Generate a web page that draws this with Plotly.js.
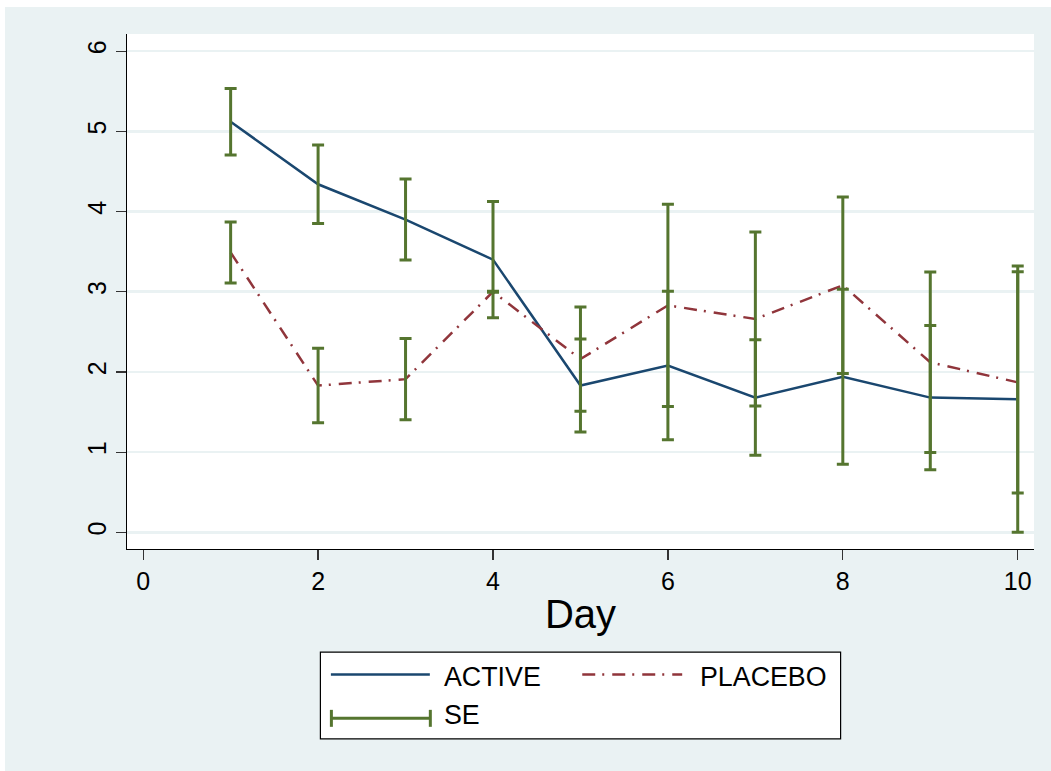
<!DOCTYPE html>
<html>
<head>
<meta charset="utf-8">
<script src="https://cdn.plot.ly/plotly-3.0.1.min.js"></script>
<style>
  html, body { margin: 0; padding: 0; background: #ffffff; }
  #chart { position: absolute; left: 5px; top: 7px; width: 1046px; height: 764px; }
</style>
</head>
<body>
<div id="chart"></div>
<script>
// ---- data ----
const days = [1, 2, 3, 4, 5, 6, 7, 8, 9, 10];
const activeMean = [5.12, 4.34, 3.90, 3.40, 1.83, 2.08, 1.68, 1.94, 1.68, 1.66];
const activeSE = [0.415, 0.49, 0.505, 0.725, 0.58, 0.925, 0.72, 1.09, 0.90, 1.66];
const placeboMean = [3.49, 1.83, 1.91, 3.00, 2.16, 2.83, 2.66, 3.08, 2.12, 1.87];
const placeboSE = [0.38, 0.465, 0.507, 0.005, 0.65, 1.26, 1.085, 1.10, 1.125, 1.38];
const xTicks = [0, 2, 4, 6, 8, 10];
const yTicks = [0, 1, 2, 3, 4, 5, 6];
const legendLabels = ['ACTIVE', 'PLACEBO', 'SE'];

const NAVY = '#1a476f', MAROON = '#90353b', GREEN = '#55752f', BG = '#eaf2f3';
const FONT = 'Liberation Sans, Arial, sans-serif';
const DASHDOT = '13px,7px,2px,8px';

const traces = [
  { x: days, y: activeMean, type: 'scatter', mode: 'lines', name: 'ACTIVE',
    line: { color: NAVY, width: 2.5 }, showlegend: false },
  { x: days, y: placeboMean, type: 'scatter', mode: 'lines', name: 'PLACEBO',
    line: { color: MAROON, width: 2.5, dash: DASHDOT }, showlegend: false },
  { x: days, y: activeMean, type: 'scatter', mode: 'markers', name: 'SE',
    marker: { size: 0.1, opacity: 0 }, showlegend: false, hoverinfo: 'skip',
    error_y: { type: 'data', array: activeSE, visible: true, color: GREEN, thickness: 3, width: 6 } },
  { x: days, y: placeboMean, type: 'scatter', mode: 'markers', name: 'SE',
    marker: { size: 0.1, opacity: 0 }, showlegend: false, hoverinfo: 'skip',
    error_y: { type: 'data', array: placeboSE, visible: true, color: GREEN, thickness: 3, width: 6 } }
];

// plot area in page pixels (for placing the hand-drawn legend)
const PL = 126.5, PR = 1034, PT = 33.5, PB = 549;
const px = v => (v - PL) / (PR - PL);
const py = v => (PB - v) / (PB - PT);

const shapes = [
  { type: 'rect', xref: 'paper', yref: 'paper', x0: px(320), x1: px(840.5), y0: py(652.3), y1: py(739),
    line: { color: '#000000', width: 1.2 }, fillcolor: '#ffffff', layer: 'below' },
  { type: 'line', xref: 'paper', yref: 'paper', x0: px(330.5), x1: px(429.5), y0: py(674.5), y1: py(674.5),
    line: { color: NAVY, width: 2.5 } },
  { type: 'line', xref: 'paper', yref: 'paper', x0: px(582), x1: px(682), y0: py(674.5), y1: py(674.5),
    line: { color: MAROON, width: 2.5, dash: DASHDOT } },
  { type: 'line', xref: 'paper', yref: 'paper', x0: px(331), x1: px(430), y0: py(718.5), y1: py(718.5),
    line: { color: GREEN, width: 3 } },
  { type: 'line', xref: 'paper', yref: 'paper', x0: px(331), x1: px(331), y0: py(710), y1: py(727),
    line: { color: GREEN, width: 3 } },
  { type: 'line', xref: 'paper', yref: 'paper', x0: px(430), x1: px(430), y0: py(710), y1: py(727),
    line: { color: GREEN, width: 3 } }
];

const annotations = [
  { text: legendLabels[0], x: px(442), y: py(677), xanchor: 'left', yanchor: 'middle' },
  { text: legendLabels[1], x: px(697.5), y: py(677), xanchor: 'left', yanchor: 'middle' },
  { text: legendLabels[2], x: px(442), y: py(715.5), xanchor: 'left', yanchor: 'middle' }
].map(a => Object.assign(a, { xref: 'paper', yref: 'paper', showarrow: false,
  font: { family: FONT, size: 26.8, color: '#000000' } }));

const layout = {
  width: 1046, height: 764,
  paper_bgcolor: BG, plot_bgcolor: '#ffffff',
  margin: { l: 121.5, r: 17, t: 26.5, b: 222, pad: 0 },
  showlegend: false,
  font: { family: FONT, color: '#000000' },
  xaxis: {
    range: [-0.185, 10.186], tickvals: xTicks, ticktext: xTicks.map(String),
    showgrid: false, zeroline: false,
    showline: true, linecolor: '#000000', linewidth: 1.2, mirror: false,
    ticks: 'outside', ticklen: 10, tickwidth: 1.2, tickcolor: '#333333',
    tickfont: { family: FONT, size: 25, color: '#000000' },
    title: { text: 'Day', font: { family: FONT, size: 40, color: '#000000' }, standoff: 5 }
  },
  yaxis: {
    range: [-0.208, 6.214], tickvals: yTicks, ticktext: yTicks.map(String),
    showgrid: true, gridcolor: BG, gridwidth: 2.5, zeroline: false,
    showline: true, linecolor: '#000000', linewidth: 1.2,
    ticks: 'outside', ticklen: 10, tickwidth: 1.2, tickcolor: '#333333', tickangle: -90,
    tickfont: { family: FONT, size: 25, color: '#000000' }
  },
  shapes: shapes,
  annotations: annotations
};

Plotly.newPlot('chart', traces, layout, { displayModeBar: false, staticPlot: true });
</script>
</body>
</html>
